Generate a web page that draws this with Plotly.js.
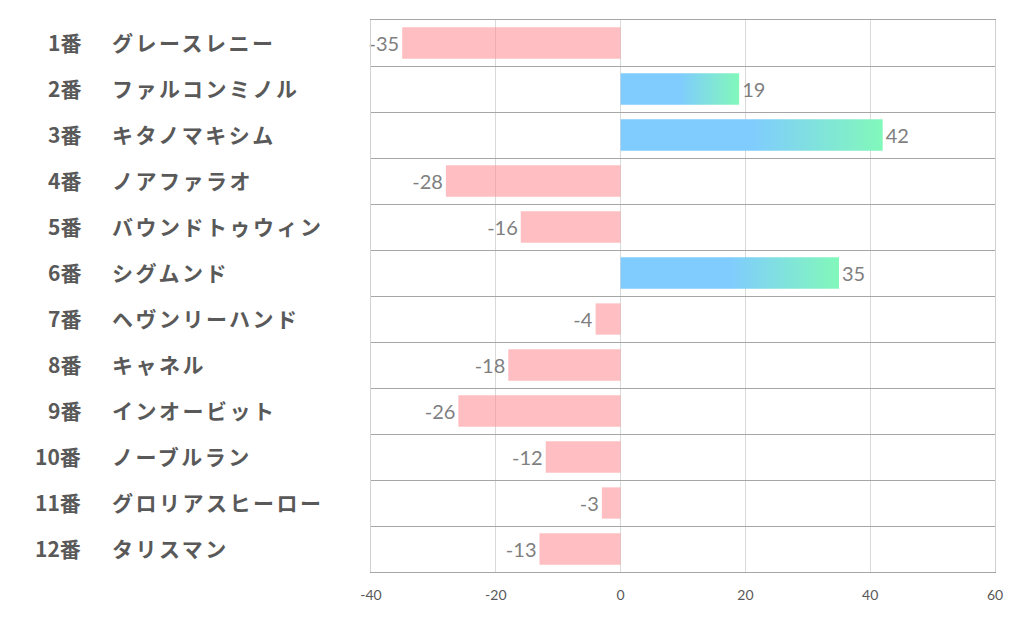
<!DOCTYPE html>
<html><head><meta charset="utf-8">
<script src="https://cdn.plot.ly/plotly-3.0.1.min.js"></script>
<style>html,body{margin:0;padding:0;background:#fff}</style>
</head><body>
<div id="chart" style="width:1022px;height:626px"></div>
<script>
const numbers = ["1番","2番","3番","4番","5番","6番","7番","8番","9番","10番","11番","12番"];
const names = ["グレースレニー","ファルコンミノル","キタノマキシム","ノアファラオ","バウンドトゥウィン","シグムンド","ヘヴンリーハンド","キャネル","インオービット","ノーブルラン","グロリアスヒーロー","タリスマン"];
const values = [-35, 19, 42, -28, -16, 35, -4, -18, -26, -12, -3, -13];
const xTicks = [-40, -20, 0, 20, 40, 60];

const cats = numbers.map((n,i)=>n+" "+names[i]);
const pink = "rgba(255,140,146,0.57)";
const blue = "rgba(125,203,254,1)";

const trace = {
  type: "bar", orientation: "h",
  x: values, y: cats,
  width: 0.68,
  marker: {color: values.map(v => v < 0 ? pink : blue), line: {width: 0}},
  text: values.map(String),
  textposition: "outside",
  cliponaxis: false,
  textfont: {family: "Lato, 'Noto Sans', sans-serif", size: 20, color: "#7f7f7f"},
  hoverinfo: "none"
};

const labelFont = {family:"'Noto Sans CJK JP', sans-serif", size:21, color:"#595959", weight:"bold"};
const annotations = [];
cats.forEach((c,i)=>{
  annotations.push({xref:"paper", yref:"y", x:-0.4615, y:c, yshift:1, text:numbers[i], showarrow:false, xanchor:"right", align:"right", font:labelFont});
  annotations.push({xref:"paper", yref:"y", x:-0.419, y:c, yshift:1, text:names[i], showarrow:false, xanchor:"left", align:"left", font:labelFont});
});

const layout = {
  width: 1022, height: 626,
  margin: {l: 371, r: 27, t: 20, b: 54},
  paper_bgcolor: "#fff", plot_bgcolor: "#fff",
  showlegend: false,
  xaxis: {range: [-40, 60], tickvals: xTicks, ticktext: xTicks.map(String), showgrid: true, gridcolor: "#d9d9d9", gridwidth: 1,
    zeroline: false, showline: true, mirror: true, linecolor: "#a6a6a6", linewidth: 1, ticks: "", ticklabelstandoff: 10,
    tickfont: {family: "Lato, 'Noto Sans', sans-serif", size: 14, color: "#595959"}, fixedrange: true},
  yaxis: {type: "category", autorange: "reversed", showticklabels: false, tickson: "boundaries", ticks: "",
    showgrid: true, gridcolor: "#a6a6a6", gridwidth: 1, zeroline: false, showline: true, mirror: true, linecolor: "#d0d0d0", linewidth: 1, fixedrange: true},
  annotations: annotations
};

Plotly.newPlot("chart", [trace], layout, {displayModeBar: false, staticPlot: true}).then(gd => {
  const svg = gd.querySelector("svg.main-svg");
  const ns = "http://www.w3.org/2000/svg";
  let defs = svg.querySelector("defs");
  if (!defs) { defs = document.createElementNS(ns, "defs"); svg.insertBefore(defs, svg.firstChild); }
  const lg = document.createElementNS(ns, "linearGradient");
  lg.setAttribute("id", "posGrad");
  lg.setAttribute("x1", "0"); lg.setAttribute("x2", "1"); lg.setAttribute("y1", "0"); lg.setAttribute("y2", "0");
  [["0%", "#7dcbfe"], ["50%", "#7dcbfe"], ["100%", "#7ff8b9"]].forEach(([o, c]) => {
    const s = document.createElementNS(ns, "stop");
    s.setAttribute("offset", o); s.setAttribute("stop-color", c);
    lg.appendChild(s);
  });
  defs.appendChild(lg);
  const pts = gd.querySelectorAll(".barlayer .trace .point path");
  pts.forEach((p, i) => {
    if (values[i] > 0) { p.style.fill = "url(#posGrad)"; p.style.fillOpacity = "0.98"; }
  });
  // wider kana spacing for the name column (left-anchored, so spacing grows rightwards)
  gd.querySelectorAll(".annotation text").forEach(t => {
    if (names.includes(t.textContent)) {
      t.setAttribute("text-anchor", "start");
      t.style.letterSpacing = "2.5px";
    }
  });
});
</script>
</body></html>
